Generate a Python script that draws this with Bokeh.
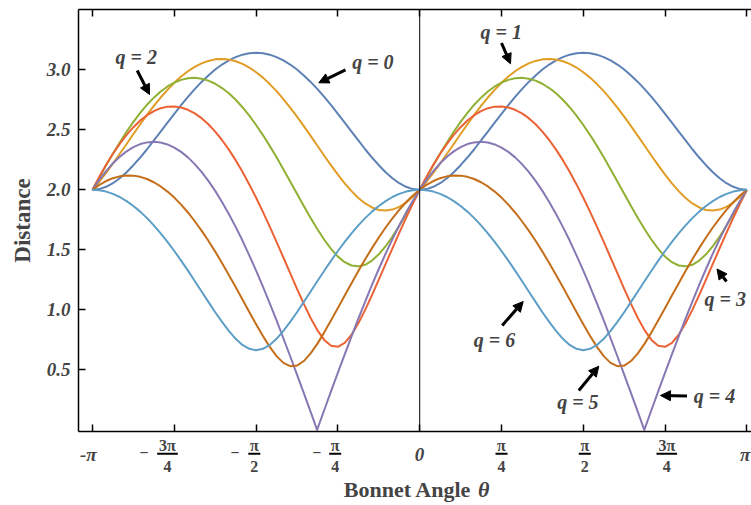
import numpy as np
from bokeh.plotting import figure
from bokeh.layouts import column
from bokeh.models import (Range1d, LinearAxis, FixedTicker, PrintfTickFormatter,
                          Label, Arrow, NormalHead, Span)
from bokeh.embed import file_html
from bokeh.resources import INLINE

# Bonnet angle samples over one period (degrees, 0..180); every curve repeats with period π
theta = [0, 3.75, 7.5, 11.25, 15, 18.75, 22.5, 26.25, 30, 33.75, 37.5, 41.25, 45, 48.75, 52.5,
         56.25, 60, 63.75, 67.5, 71.25, 75, 78.75, 82.5, 86.25, 90, 93.75, 97.5, 101.25, 105,
         108.75, 112.5, 116.25, 120, 123.75, 127.5, 131.25, 135, 138.75, 142.5, 146.25, 150,
         153.75, 157.5, 161.25, 165, 168.75, 172.5, 176.25, 180]
# q = 4 touches zero at 123.55°
theta_q4 = [0, 3.75, 7.5, 11.25, 15, 18.75, 22.5, 26.25, 30, 33.75, 37.5, 41.25, 45, 48.75, 52.5,
            56.25, 60, 63.75, 67.5, 71.25, 75, 78.75, 82.5, 86.25, 90, 93.75, 97.5, 101.25, 105,
            108.75, 112.5, 116.25, 120, 123.55, 127.5, 131.25, 135, 138.75, 142.5, 146.25, 150,
            153.75, 157.5, 161.25, 165, 168.75, 172.5, 176.25, 180]

dist_q0 = [2.000, 2.006, 2.025, 2.055, 2.096, 2.146, 2.205, 2.269, 2.338, 2.411, 2.485, 2.560,
           2.633, 2.705, 2.774, 2.839, 2.899, 2.953, 3.002, 3.044, 3.078, 3.106, 3.126, 3.138,
           3.142, 3.138, 3.126, 3.106, 3.078, 3.044, 3.002, 2.953, 2.899, 2.839, 2.774, 2.705,
           2.633, 2.560, 2.485, 2.411, 2.338, 2.269, 2.205, 2.146, 2.096, 2.055, 2.025, 2.006,
           2.000]
dist_q1 = [2.000, 2.067, 2.140, 2.219, 2.300, 2.382, 2.465, 2.546, 2.624, 2.699, 2.769, 2.833,
           2.892, 2.944, 2.988, 3.025, 3.054, 3.074, 3.087, 3.090, 3.085, 3.071, 3.049, 3.019,
           2.980, 2.935, 2.881, 2.822, 2.756, 2.685, 2.610, 2.531, 2.449, 2.367, 2.284, 2.204,
           2.126, 2.054, 1.989, 1.932, 1.886, 1.853, 1.832, 1.827, 1.835, 1.858, 1.894, 1.942,
           2.000]
dist_q2 = [2.000, 2.103, 2.204, 2.302, 2.395, 2.484, 2.566, 2.641, 2.709, 2.768, 2.819, 2.861,
           2.893, 2.916, 2.929, 2.933, 2.926, 2.910, 2.884, 2.848, 2.804, 2.750, 2.688, 2.618,
           2.540, 2.456, 2.366, 2.271, 2.172, 2.070, 1.968, 1.865, 1.766, 1.671, 1.584, 1.507,
           1.443, 1.397, 1.369, 1.362, 1.375, 1.410, 1.462, 1.530, 1.611, 1.701, 1.797, 1.898,
           2.000]
dist_q3 = [2.000, 2.108, 2.208, 2.300, 2.383, 2.457, 2.522, 2.577, 2.622, 2.656, 2.680, 2.693,
           2.695, 2.686, 2.667, 2.637, 2.597, 2.546, 2.485, 2.415, 2.335, 2.247, 2.150, 2.045,
           1.934, 1.816, 1.693, 1.566, 1.436, 1.305, 1.175, 1.049, 0.932, 0.829, 0.749, 0.700,
           0.692, 0.724, 0.792, 0.887, 0.999, 1.122, 1.251, 1.382, 1.512, 1.641, 1.766, 1.886,
           2.000]
dist_q4 = [2.000, 2.083, 2.156, 2.221, 2.275, 2.320, 2.356, 2.381, 2.395, 2.400, 2.394, 2.378,
           2.352, 2.316, 2.270, 2.214, 2.149, 2.074, 1.991, 1.899, 1.799, 1.691, 1.577, 1.454,
           1.327, 1.193, 1.054, 0.911, 0.763, 0.613, 0.460, 0.305, 0.149, 0.000, 0.165, 0.322,
           0.476, 0.629, 0.779, 0.926, 1.069, 1.207, 1.340, 1.468, 1.589, 1.703, 1.810, 1.909,
           2.000]
dist_q5 = [2.000, 2.041, 2.073, 2.097, 2.112, 2.120, 2.118, 2.108, 2.090, 2.063, 2.028, 1.985,
           1.935, 1.876, 1.811, 1.738, 1.660, 1.575, 1.485, 1.390, 1.291, 1.190, 1.086, 0.982,
           0.879, 0.781, 0.691, 0.614, 0.558, 0.530, 0.535, 0.573, 0.637, 0.718, 0.812, 0.912,
           1.015, 1.119, 1.222, 1.323, 1.421, 1.514, 1.603, 1.686, 1.762, 1.833, 1.896, 1.952,
           2.000]
dist_q6 = [2.000, 1.996, 1.985, 1.966, 1.940, 1.906, 1.865, 1.818, 1.764, 1.703, 1.637, 1.566,
           1.490, 1.410, 1.326, 1.240, 1.153, 1.066, 0.980, 0.899, 0.824, 0.758, 0.707, 0.675,
           0.663, 0.675, 0.707, 0.758, 0.824, 0.899, 0.980, 1.066, 1.153, 1.240, 1.326, 1.410,
           1.490, 1.566, 1.637, 1.703, 1.764, 1.818, 1.865, 1.906, 1.940, 1.966, 1.985, 1.996,
           2.000]

curves = [(theta, dist_q0), (theta, dist_q1), (theta, dist_q2), (theta, dist_q3),
          (theta_q4, dist_q4), (theta, dist_q5), (theta, dist_q6)]
colors = ["#5E81B5", "#E19C24", "#8FB032", "#EB6235", "#8778B3", "#C56E1A", "#5D9EC7"]

# Axis ticks and their labels
y_ticks = [0.5, 1.0, 1.5, 2.0, 2.5, 3.0]
x_ticks = [-np.pi, -3 * np.pi / 4, -np.pi / 2, -np.pi / 4, 0, np.pi / 4, np.pi / 2, 3 * np.pi / 4, np.pi]
x_tick_sign = ["", "\u2212", "\u2212", "\u2212", "", "", "", "", ""]
x_tick_num = ["-\u03c0", "3\u03c0", "\u03c0", "\u03c0", "0", "\u03c0", "\u03c0", "3\u03c0", "\u03c0"]
x_tick_den = ["", "4", "2", "4", "", "4", "2", "4", ""]

q_labels = ["q = 0", "q = 1", "q = 2", "q = 3", "q = 4", "q = 5", "q = 6"]

# ---- geometry (pixels) ----
W = 751
FL, FR, FT, FB = 78, 751, 9, 431
H_MAIN = FB + 4
H_FOOT = 505 - H_MAIN
X0 = -np.pi - 14 * (np.pi / 4) / 81.8
X1 = X0 + (FR - FL) * (np.pi / 4) / 81.8
Y0 = -(FB - 429.3) / 120.0
Y1 = Y0 + (FB - FT) / 120.0
RPP = (X1 - X0) / (FR - FL)          # radians per pixel


def xp(px):
    return X0 + (px - FL) * RPP


def yp(py):
    return Y1 - (py - FT) * (Y1 - Y0) / (FB - FT)


SERIF = "Liberation Serif"

p = figure(width=W, height=H_MAIN, x_range=Range1d(X0, X1), y_range=Range1d(Y0, Y1),
           output_backend="svg", toolbar_location=None,
           x_axis_location=None, y_axis_location=None,
           min_border_left=FL, min_border_right=0, min_border_top=FT, min_border_bottom=H_MAIN - FB)
p.outline_line_color = None
p.grid.grid_line_color = None
p.background_fill_color = "white"
p.border_fill_color = "white"


def frame_axis(ticks, **kw):
    return LinearAxis(ticker=FixedTicker(ticks=ticks), major_tick_in=7, major_tick_out=0,
                      minor_tick_line_color=None, axis_line_width=1.5, major_tick_line_width=1.5,
                      axis_line_color="black", major_tick_line_color="black", **kw)


left = frame_axis(y_ticks, formatter=PrintfTickFormatter(format="%.1f"),
                  major_label_text_font=SERIF, major_label_text_font_style="bold italic",
                  major_label_text_font_size="19px", major_label_standoff=8,
                  axis_label="Distance", axis_label_text_font=SERIF,
                  axis_label_text_font_style="bold", axis_label_text_font_size="23px",
                  axis_label_standoff=9)
p.add_layout(left, "left")
# frame edges with inward ticks only; their numbers are set in the strip below
for side in ("below", "above"):
    p.add_layout(frame_axis(x_ticks, major_label_text_color=None,
                            major_label_text_font_size="1px", major_label_standoff=0), side)

# vertical axis through θ = 0
p.add_layout(Span(location=0, dimension="height", line_color="black", line_width=1))

# curves, drawn over both periods
for (th, d), c in zip(curves, colors):
    t = np.radians(np.array(th, dtype=float))
    for shift in (-np.pi, 0.0):
        p.line(t + shift, d, line_color=c, line_width=2, line_join="round")

# curve annotations: text (left edge, vertical middle) and arrow (tail -> tip), in pixels
q_text_pos = [(351.7, 61.5), (480, 31.5), (115, 56.5), (704, 298.8), (693.3, 395.5),
              (556.7, 401.5), (473.3, 339.8)]
q_arrows = [((345, 69.3), (318.3, 82.3)), ((501, 42.5), (510, 63.3)), ((136.7, 70), (149, 94)),
            ((726, 281), (716.5, 268.5)), ((686.5, 395.5), (660, 395)),
            ((578.3, 390), (598.3, 365.7)), ((501.7, 325), (522.7, 301))]
for txt, (tx, ty), ((ax0, ay0), (ax1, ay1)) in zip(q_labels, q_text_pos, q_arrows):
    p.add_layout(Label(x=xp(tx), y=yp(ty), text=txt, text_font=SERIF,
                       text_font_style="bold italic", text_font_size="20px",
                       text_align="left", text_baseline="middle"))
    p.add_layout(Arrow(x_start=xp(ax0), y_start=yp(ay0), x_end=xp(ax1), y_end=yp(ay1),
                       line_width=3, line_color="black",
                       end=NormalHead(size=10, fill_color="black", line_color="black",
                                      line_width=1)))

# ---- strip under the frame: x tick labels and axis title (y measured in page pixels) ----
foot = figure(width=W, height=H_FOOT, x_range=p.x_range,
              y_range=Range1d(505, H_MAIN), output_backend="svg", toolbar_location=None,
              x_axis_location=None, y_axis_location=None,
              min_border_left=FL, min_border_right=0, min_border_top=0, min_border_bottom=0)
foot.outline_line_color = None
foot.grid.grid_line_color = None
foot.background_fill_color = "white"
foot.border_fill_color = "white"

frac_dx = [-4.2, -6.8, -1.8, -2.7, -0.3, 0.0, 1.5, 1.7, -1.7]
sign_dx = [0, -30.3, -21.1, -21.1, 0, 0, 0, 0, 0]
bar_x0, bar_x1, bar_y = [], [], []
for i, tv in enumerate(x_ticks):
    cx = tv + frac_dx[i] * RPP
    if x_tick_den[i] == "":
        foot.add_layout(Label(x=cx, y=454.1, text=x_tick_num[i], text_font=SERIF,
                              text_font_style="bold italic", text_font_size="19px",
                              text_align="center", text_baseline="middle"))
        continue
    foot.add_layout(Label(x=cx, y=444.6, text=x_tick_num[i], text_font=SERIF,
                          text_font_style="bold", text_font_size="16px",
                          text_align="center", text_baseline="middle"))
    foot.add_layout(Label(x=cx, y=466.1, text=x_tick_den[i], text_font=SERIF,
                          text_font_style="bold", text_font_size="16px",
                          text_align="center", text_baseline="middle"))
    half = 10.3 if x_tick_num[i].startswith("3") else 6.0
    bar_x0.append(cx - half * RPP)
    bar_x1.append(cx + half * RPP)
    bar_y.append(453.3)
    if x_tick_sign[i]:
        foot.add_layout(Label(x=tv + sign_dx[i] * RPP, y=451.9, text=x_tick_sign[i],
                              text_font=SERIF, text_font_style="bold", text_font_size="16px",
                              text_align="center", text_baseline="middle"))
foot.segment(x0=bar_x0, y0=bar_y, x1=bar_x1, y1=bar_y, line_color="black", line_width=2)

foot.add_layout(Label(x=xp(343.3), y=489.3, text="Bonnet Angle", text_font=SERIF,
                      text_font_style="bold", text_font_size="22px",
                      text_align="left", text_baseline="middle"))
foot.add_layout(Label(x=xp(477.5), y=489.3, text="\u03b8", text_font=SERIF,
                      text_font_style="bold italic", text_font_size="22px",
                      text_align="left", text_baseline="middle"))

layout = column(p, foot, spacing=0)
open("out.html", "w").write(file_html(layout, INLINE))
